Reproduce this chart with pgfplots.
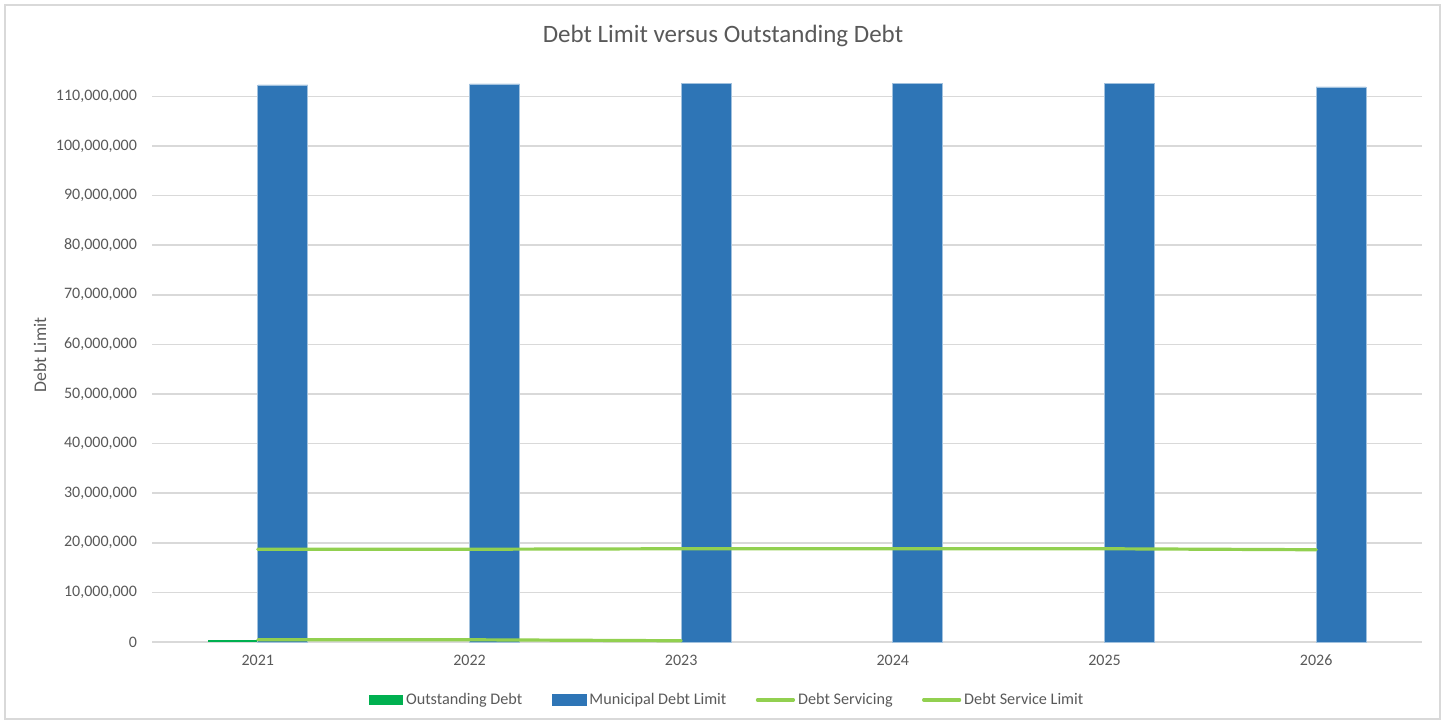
\documentclass[border=0pt]{standalone}
\usepackage{pgfplots}
\pgfplotsset{compat=1.18}
\usepackage{fontspec}
\setmainfont{Carlito}
\definecolor{txt}{HTML}{595959}
\definecolor{gridc}{HTML}{D9D9D9}
\definecolor{odebt}{HTML}{00B050}
\definecolor{mdl}{HTML}{2E75B6}
\definecolor{lgreen}{HTML}{92D050}
\begin{document}
\begin{tikzpicture}[x=1pt,y=1pt]
\path[use as bounding box] (0,0) rectangle (722.5,362);
\draw[gridc, line width=0.75pt] (2.5,2.5) rectangle (720,359.5);
\node[font=\fontsize{12.5}{14}\selectfont, text=txt] at (361.5,344) {Debt Limit versus Outstanding Debt};
\begin{axis}[
  at={(76pt,41pt)}, anchor=south west,
  width=635pt, height=285.2pt, scale only axis,
  ybar=0pt, bar width=25pt,
  xmin=-0.5, xmax=5.5, ymin=0, ymax=115000000,
  xtick={0,1,2,3,4,5}, xticklabels={2021,2022,2023,2024,2025,2026},
  ytick={0,10000000,20000000,30000000,40000000,50000000,60000000,70000000,80000000,90000000,100000000,110000000},
  scaled y ticks=false,
  /pgf/number format/assume math mode=true,
  yticklabel style={/pgf/number format/fixed, /pgf/number format/1000 sep={,}, xshift=-4pt},
  xticklabel style={yshift=-3pt},
  ticklabel style={font=\fontsize{8}{9}\selectfont, text=txt},
  axis line style={draw=none},
  major tick length=0pt,
  ymajorgrids, grid style={gridc, line width=0.75pt},
  ylabel={Debt Limit},
  ylabel style={at={(axis description cs:-0.0882,0.503)}, anchor=center, font=\fontsize{8.9}{10}\selectfont, text=txt},
  legend columns=4,
  legend style={at={(axis description cs:0.4533,-0.1015)}, anchor=center, draw=none, fill=none,
    font=\fontsize{8.1}{9}\selectfont, text=txt,
    /tikz/every even column/.append style={column sep=13.2pt},
    nodes={inner sep=1.5pt}},
]
\addplot[fill=odebt, draw=none, bar shift=-12.5pt,
  legend image code/.code={\fill[odebt] (0pt,-2.6pt) rectangle (17pt,2.6pt);}]
  coordinates {(0,400000)};
\addlegendentry{Outstanding Debt}
\addplot[fill=mdl, draw=mdl!45!white, line width=0.4pt, bar shift=12.5pt,
  legend image code/.code={\fill[mdl] (0pt,-2.6pt) rectangle (17pt,2.6pt);}]
  coordinates {(0,112300000) (1,112500000) (2,112700000) (3,112700000) (4,112700000) (5,111900000)};
\addlegendentry{Municipal Debt Limit}
\addplot[sharp plot, lgreen, line width=1.6pt, line cap=round,
  legend image code/.code={\draw[lgreen, line width=1.6pt, line cap=round] (0pt,0pt) -- (18pt,0pt);}]
  coordinates {(0,450000) (1,450000) (2,250000)};
\addlegendentry{Debt Servicing}
\addplot[sharp plot, lgreen, line width=1.6pt, line cap=round,
  legend image code/.code={\draw[lgreen, line width=1.6pt, line cap=round] (0pt,0pt) -- (18pt,0pt);}]
  coordinates {(0,18700000) (1,18700000) (2,18800000) (3,18800000) (4,18800000) (5,18600000)};
\addlegendentry{Debt Service Limit}
\end{axis}
\end{tikzpicture}
\end{document}
